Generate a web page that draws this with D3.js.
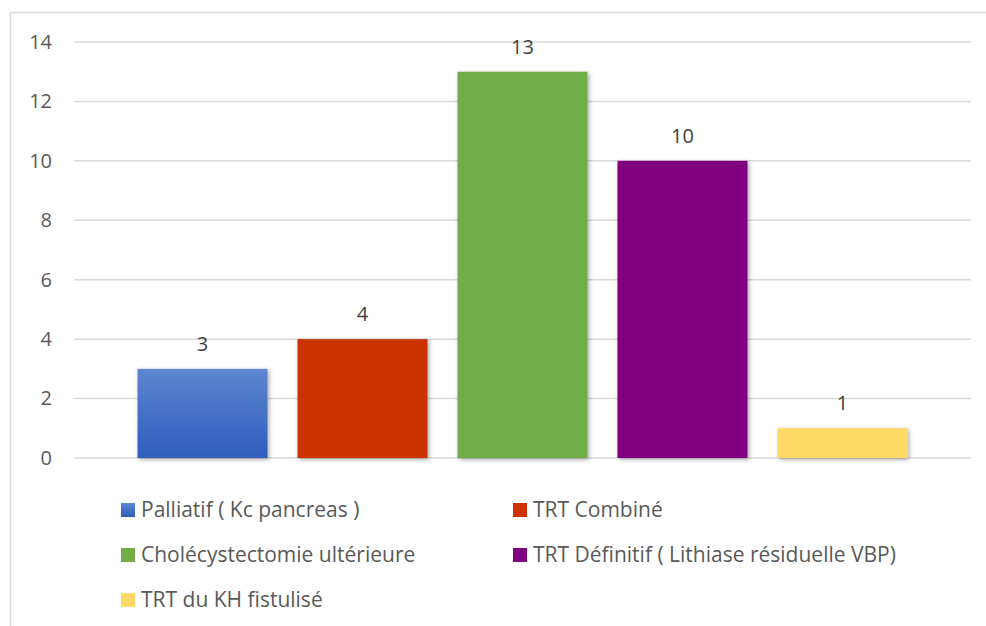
<!DOCTYPE html>
<html>
<head>
<meta charset="utf-8">
<script src="https://cdn.jsdelivr.net/npm/d3@7"></script>
<style>
  html, body { margin: 0; padding: 0; background: #fff; }
  svg { display: block; font-family: "Open Sans", "Noto Sans", sans-serif; }
</style>
</head>
<body>
<svg id="chart" width="986" height="626"></svg>
<script>
// Treatment categories and patient counts
const categories = [
  "Palliatif ( Kc pancreas )",
  "TRT Combiné",
  "Cholécystectomie ultérieure",
  "TRT Définitif ( Lithiase résiduelle VBP)",
  "TRT du KH fistulisé"
];
const values = [3, 4, 13, 10, 1];
const colors = ["#3a6cc6", "#cc3300", "#70ad47", "#800080", "#ffd966"];
const yTicks = [0, 2, 4, 6, 8, 10, 12, 14];

const svg = d3.select("#chart");
const W = 986, H = 626;

// outer chart frame
svg.append("rect")
  .attr("x", 10.5).attr("y", 12.5)
  .attr("width", W).attr("height", H)
  .attr("fill", "#fff").attr("stroke", "#d9d9d9").attr("stroke-width", 1.5);

const defs = svg.append("defs");
const grad = defs.append("linearGradient").attr("id", "blueGrad")
  .attr("x1", 0).attr("y1", 0).attr("x2", 0).attr("y2", 1);
grad.append("stop").attr("offset", "0%").attr("stop-color", "#5e86d1");
grad.append("stop").attr("offset", "100%").attr("stop-color", "#2d5dbb");

const shadow = defs.append("filter").attr("id", "shadow")
  .attr("x", "-10%").attr("y", "-10%").attr("width", "130%").attr("height", "130%");
shadow.append("feDropShadow")
  .attr("dx", 1.5).attr("dy", 1.5).attr("stdDeviation", 2)
  .attr("flood-color", "#000").attr("flood-opacity", 0.35);

const plot = { left: 74, right: 971, top: 42, bottom: 458 };

const y = d3.scaleLinear().domain([0, 14]).range([plot.bottom, plot.top]);
const x = d3.scaleBand().domain(categories)
  .range([plot.left, plot.right])
  .paddingInner(0.1875).paddingOuter(0.397);

// horizontal gridlines
svg.append("g")
  .selectAll("line").data(yTicks).join("line")
  .attr("x1", plot.left).attr("x2", plot.right)
  .attr("y1", d => y(d)).attr("y2", d => y(d))
  .attr("stroke", "#d9d9d9").attr("stroke-width", 1.5);

// y axis labels
const yAxis = d3.axisLeft(y).tickValues(yTicks).tickSize(0).tickPadding(0);
const gy = svg.append("g").attr("transform", "translate(52,0)").call(yAxis);
gy.select(".domain").remove();
gy.selectAll("text")
  .attr("fill", "#595959").attr("font-size", 20)
  .attr("font-family", "'Open Sans', 'Noto Sans', sans-serif");

// bars
svg.append("g")
  .selectAll("rect").data(values).join("rect")
  .attr("x", (d, i) => x(categories[i]))
  .attr("y", d => y(d))
  .attr("width", x.bandwidth())
  .attr("height", d => y(0) - y(d))
  .attr("fill", (d, i) => i === 0 ? "url(#blueGrad)" : colors[i])
  .attr("filter", "url(#shadow)");

// value labels
svg.append("g")
  .selectAll("text").data(values).join("text")
  .attr("x", (d, i) => x(categories[i]) + x.bandwidth() / 2)
  .attr("y", d => y(d) - 18)
  .attr("text-anchor", "middle")
  .attr("fill", "#404040").attr("font-size", 20)
  .text(d => d);

// legend
const legendPos = [
  { x: 121, y: 510 }, { x: 513, y: 510 },
  { x: 121, y: 555 }, { x: 513, y: 555 },
  { x: 121, y: 600 }
];
const lg = svg.append("g").selectAll("g").data(categories).join("g")
  .attr("transform", (d, i) => `translate(${legendPos[i].x},${legendPos[i].y})`);
lg.append("rect")
  .attr("x", 0).attr("y", -7).attr("width", 14).attr("height", 14)
  .attr("fill", (d, i) => i === 0 ? "url(#blueGrad)" : colors[i]);
lg.append("text")
  .attr("x", 20).attr("y", 0).attr("dy", "0.35em")
  .attr("fill", "#595959").attr("font-size", 21)
  .text(d => d);
</script>
</body>
</html>
